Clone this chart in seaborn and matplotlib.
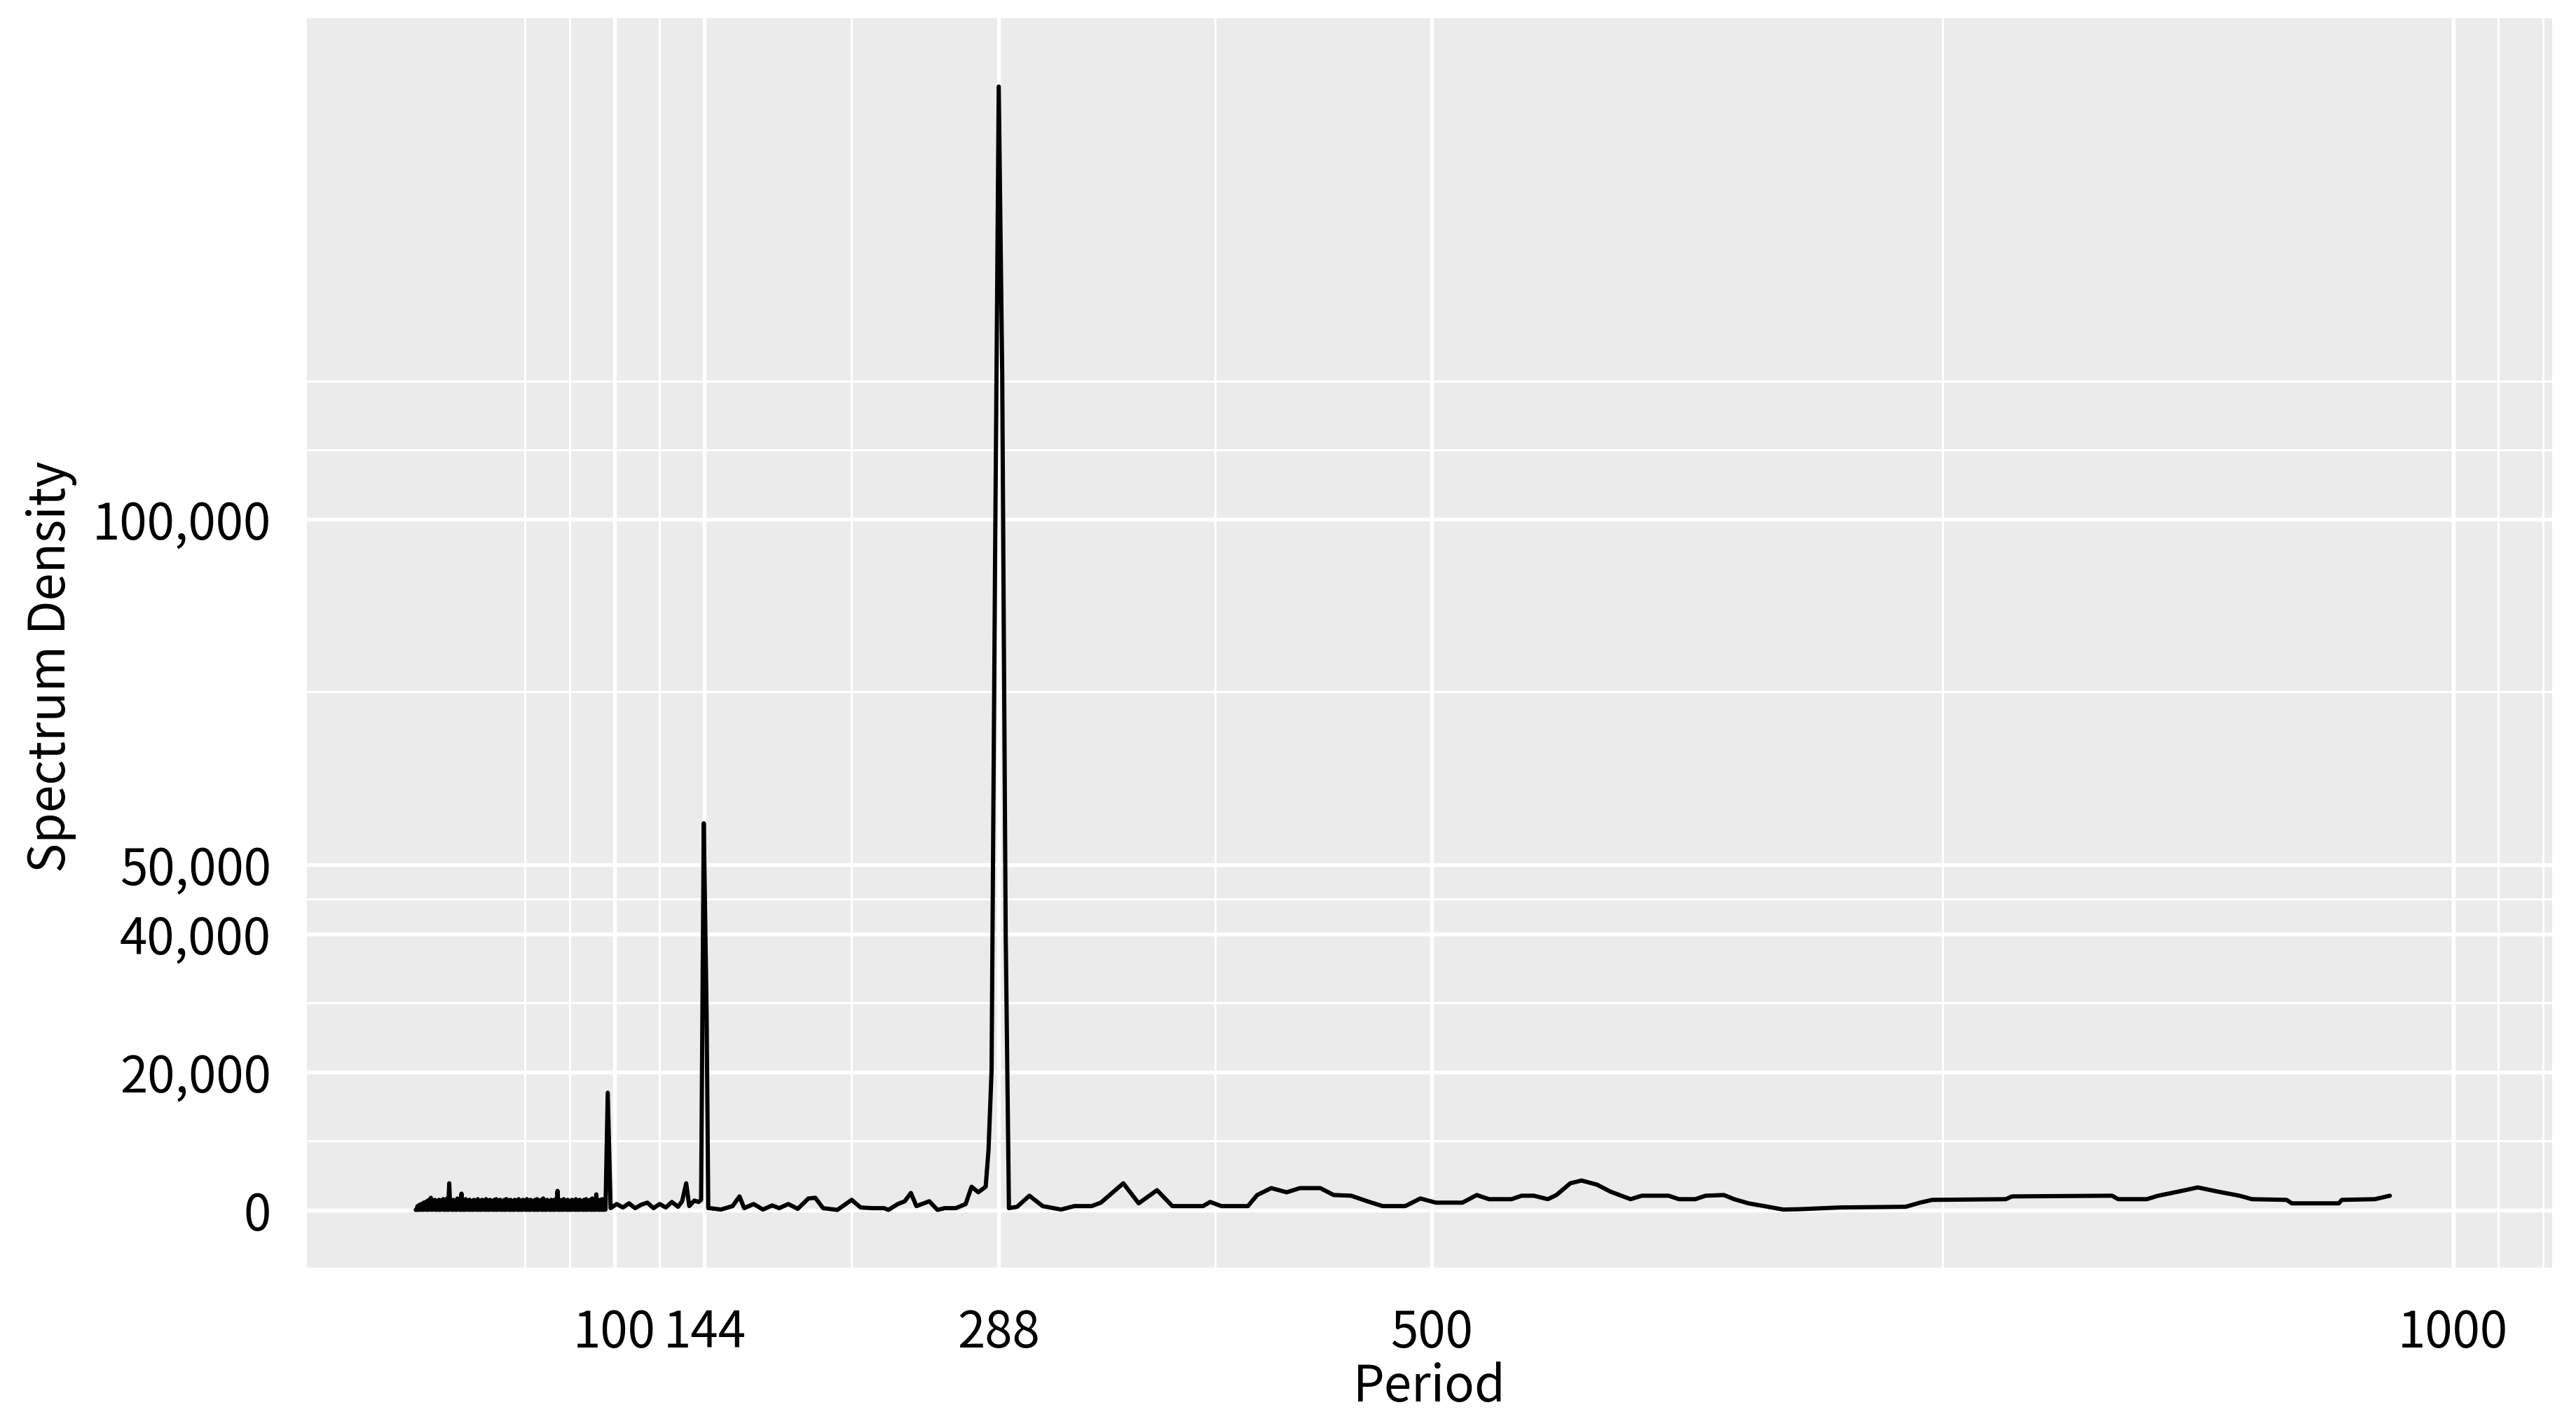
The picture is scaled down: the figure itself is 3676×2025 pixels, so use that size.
"""
Spectrum density by period (ggplot-like look)
"""

import pandas as pd
import matplotlib
matplotlib.use("Agg")
import matplotlib.pyplot as plt
import seaborn as sns
from matplotlib.ticker import FuncFormatter

# ----------------------------
# Data
# ----------------------------
# dense low-period part (period 2.6 .. 96)
period_low = [2.6,
              3, 3.5, 4, 4.5, 5, 5.5, 6, 6.5, 7, 7.5,
              8, 8.5, 9, 9.5, 10, 10.5, 11, 11.5, 12, 12.5,
              13, 13.5, 14, 14.5, 15, 15.5, 16, 16.5, 17, 17.5,
              18, 18.5, 19, 19.5, 20, 20.5, 21, 21.5, 22, 22.5,
              23, 23.5, 24, 24.5, 25, 25.5, 26, 26.5, 27, 27.5,
              28, 28.5, 29, 29.5, 30, 30.5, 31, 31.5, 32, 32.5,
              33, 33.5, 34, 34.5, 35, 35.5, 36, 36.5, 37, 37.5,
              38, 38.5, 39, 39.5, 40, 40.5, 41, 41.5, 42, 42.5,
              43, 43.5, 44, 44.5, 45, 45.5, 46, 46.5, 47, 47.5,
              48, 48.5, 49, 49.5, 50, 50.5, 51, 51.5, 52, 52.5,
              53, 53.5, 54, 54.5, 55, 55.5, 56, 56.5, 57, 57.5,
              58, 58.5, 59, 59.5, 60, 60.5, 61, 61.5, 62, 62.5,
              63, 63.5, 64, 64.5, 65, 65.5, 66, 66.5, 67, 67.5,
              68, 68.5, 69, 69.5, 70, 70.5, 71, 71.5, 72, 72.5,
              73, 73.5, 74, 74.5, 75, 75.5, 76, 76.5, 77, 77.5,
              78, 78.5, 79, 79.5, 80, 80.5, 81, 81.5, 82, 82.5,
              83, 83.5, 84, 84.5, 85, 85.5, 86, 86.5, 87, 87.5,
              88, 88.5, 89, 89.5, 90, 90.5, 91, 91.5, 92, 92.5,
              93, 93.5, 94, 94.5, 95, 95.5,
              96.6]
density_low = [50,
               50, 600, 50, 800, 60, 900, 50, 1100, 80, 1200,
               50, 1400, 60, 1500, 1800, 50, 1400, 80, 1500, 50,
               1300, 60, 1500, 50, 1400, 80, 1600, 50, 1500, 60,
               1700, 50, 3900, 80, 1400, 50, 1500, 60, 1300, 50,
               1700, 80, 1500, 50, 2400, 60, 1400, 50, 1600, 80,
               1400, 50, 1500, 60, 1300, 50, 1500, 80, 1400, 50,
               1600, 60, 1300, 50, 1500, 80, 1400, 50, 1600, 60,
               1400, 50, 1500, 80, 1300, 50, 1500, 60, 1600, 50,
               1400, 80, 1500, 50, 1300, 60, 1500, 50, 1600, 80,
               1400, 50, 1500, 60, 1300, 50, 1500, 80, 1400, 50,
               1600, 60, 1300, 50, 1500, 80, 1400, 50, 1600, 60,
               1400, 50, 1500, 80, 1300, 50, 1500, 60, 1600, 50,
               1400, 80, 1500, 50, 1700, 60, 1400, 50, 1500, 80,
               1300, 50, 1500, 60, 1400, 50, 1600, 80, 2800, 50,
               1500, 60, 1400, 50, 1600, 80, 1400, 50, 1500, 60,
               1300, 50, 1500, 80, 1400, 50, 1600, 60, 1400, 50,
               1500, 80, 1300, 50, 1500, 60, 1600, 50, 1400, 80,
               1500, 50, 1700, 60, 1500, 50, 2300, 80, 1400, 50,
               1500, 60, 1600, 50, 1500, 80,
               17000]

# between the 96 and 288 peaks
period_mid = [98, 101, 104, 107, 110, 113, 116, 119, 122, 125, 128, 131, 133, 135,
              136.5, 139, 141, 142.3, 143.6, 145.0, 145.8, 146.7, 152, 157.7, 161.1,
              163.4, 168, 172.6, 177.1, 180.5, 185, 189.6, 194.8, 198.2, 202, 209, 216,
              220.4, 226, 231.9, 234, 238.6, 242, 245, 247.7, 254, 258, 261.5, 267,
              271.8, 274.7, 278, 281.6, 283.0, 284.5, 286.2, 288.0, 289.7, 291.4, 293.0]
density_mid = [300, 900, 400, 1000, 300, 800, 1100, 300, 900, 400, 1200, 500, 1300, 3900,
               600, 1400, 1200, 1500, 56000, 28200, 300, 300, 100, 600, 2000,
               300, 900, 100, 700, 300, 900, 200, 1700, 1800, 300, 50, 1500,
               400, 300, 300, 50, 900, 1300, 2500, 600, 1300, 50, 300, 300,
               900, 3400, 2600, 3400, 8700, 20300, 93600, 162600, 121000, 40200, 300]

# long-period tail
period_high = [297, 303, 309.5, 318.5, 325, 333.5, 338, 349, 356.5, 365.5, 373, 388,
               391.5, 397, 410, 414.5, 421.4, 429, 435.4, 445.4, 452, 460.5, 469.4,
               476, 487, 494.4, 502, 515, 522, 528, 539, 544, 550, 556.8, 561, 567.8,
               573.3, 580.9, 587.4, 597.3, 602.8, 615.9, 621, 629, 634, 643, 648, 655,
               664.6, 672, 680, 700, 732, 739, 745, 781, 784, 833, 836, 850, 855.6,
               865.5, 875, 884.7, 895.4, 901.5, 918.4, 921, 944, 945.5, 961.6, 969]
density_high = [500, 2100, 600, 100, 600, 600, 1100, 3900, 1000, 2900, 600, 600,
                1200, 600, 600, 2200, 3200, 2600, 3200, 3200, 2200, 2100, 1200,
                600, 600, 1700, 1100, 1100, 2200, 1600, 1600, 2100, 2100, 1600, 2200, 3900,
                4300, 3700, 2700, 1600, 2100, 2100, 1600, 1600, 2100, 2200, 1600, 1000,
                500, 100, 150, 400, 500, 1100, 1500, 1600, 2000, 2100, 1600, 1600, 2100,
                2700, 3300, 2700, 2100, 1600, 1500, 1000, 1000, 1500, 1600, 2100]

x_breaks = [100, 144, 288, 500, 1000]
x_minor = [56, 78, 122, 216, 394, 750, 1022, 1044]
y_breaks = [0, 20000, 40000, 50000, 100000]
y_minor = [10000, 30000, 45000, 75000, 110000, 120000]

df = pd.DataFrame({
    "Period": period_low + period_mid + period_high,
    "Spectrum Density": density_low + density_mid + density_high,
})

# ----------------------------
# Style
# ----------------------------
sns.set_theme(style="darkgrid", rc={
    "axes.facecolor": "#EBEBEB",
    "grid.color": "white",
    "axes.edgecolor": "#EBEBEB",
})
plt.rcParams["font.family"] = ["Noto Sans CJK KR", "DejaVu Sans"]

fig = plt.figure(figsize=(3676 / 300, 2025 / 300), dpi=300)
ax = fig.add_axes([0.1192, 0.1067, 0.8715, 0.8805])

sns.lineplot(data=df, x="Period", y="Spectrum Density", color="black",
             linewidth=1.45, estimator=None, sort=False, ax=ax)

ax.set_xlim(-50.6, 1048.4)
ax.set_ylim(-8300, 172500)

ax.set_xticks(x_breaks)
ax.set_xticks(x_minor, minor=True)
ax.set_yticks(y_breaks)
ax.set_yticks(y_minor, minor=True)
ax.yaxis.set_major_formatter(FuncFormatter(lambda v, _: f"{int(v):,}"))

ax.grid(which="major", color="white", linewidth=1.3)
ax.grid(which="minor", color="white", linewidth=0.7)
ax.set_axisbelow(True)
for s in ax.spines.values():
    s.set_visible(False)

ax.tick_params(which="major", length=5.3, width=0.8, color="#333333",
               labelsize=17, labelcolor="black")
ax.tick_params(axis="x", which="major", pad=8.3)
ax.tick_params(axis="y", which="major", pad=7)
ax.tick_params(which="minor", length=0)

ax.set_xlabel("Period", fontsize=17, color="black", va="baseline")
ax.set_ylabel("Spectrum Density", fontsize=17, color="black")
ax.xaxis.set_label_coords(0.5, -0.1071)
ax.yaxis.set_label_coords(-0.1024, 0.481)

plt.savefig("out.png", dpi=300)
plt.close()
print("Saved: out.png")
